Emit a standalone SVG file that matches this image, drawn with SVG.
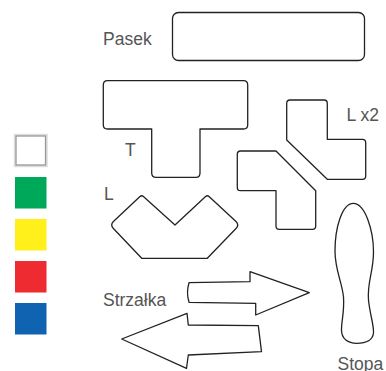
<svg xmlns="http://www.w3.org/2000/svg" width="386" height="371" viewBox="0 0 386 371">
<style>
.shape{fill:#fff;stroke:#222;stroke-width:1.3;stroke-linejoin:round}
.lbl{font-family:"Liberation Sans",Arial,sans-serif;font-size:17.5px;fill:#555}
</style>
<rect width="386" height="371" fill="#fff"/>
<g id="swatches">
<rect x="15" y="135" width="31.5" height="31" fill="#fff" stroke="#ddd" stroke-width="2.5"/>
<rect x="16" y="136" width="29.5" height="29" fill="#fff" stroke="#999" stroke-width="1.3"/>
<rect x="15" y="177" width="31.5" height="31.5" fill="#00A85A"/>
<rect x="15" y="219" width="31.5" height="31.5" fill="#FFF01C"/>
<rect x="15" y="261" width="31.5" height="31.5" fill="#EE2B31"/>
<rect x="15" y="303" width="31.5" height="31.5" fill="#1063B0"/>
</g>
<g id="pasek">
<rect class="shape" x="172.5" y="12.5" width="192" height="48" rx="6"/>
<text class="lbl" x="103" y="45">Pasek</text>
</g>
<g id="t">
<path class="shape" d="M107.5,80.7 H243.5 Q247.7,80.7 247.7,85 V125 Q247.7,129 243.5,129 H200 V173 Q200,177.3 196,177.3 H156 Q151.7,177.3 151.7,173 V129 H107.5 Q103.3,129 103.3,125 V85 Q103.3,80.7 107.5,80.7 Z"/>
<text class="lbl" x="125" y="156">T</text>
</g>
<g id="l">
<path class="shape" d="M140,196.5 Q141.7,195 143.4,196.5 L175,225 L205.6,196.5 Q207.3,195 209,196.5 L236,221.5 Q239.5,225 236,228.5 L207.3,258.3 H141.7 L113.4,228.5 Q110,225 113.4,221.5 Z"/>
<text class="lbl" x="104" y="200">L</text>
</g>
<g id="lx2a">
<path class="shape" d="M290,100 H324 Q327.3,100 327.3,103.5 V139.3 H362.5 Q365.7,139.3 365.7,142.5 V176 Q365.7,179.3 362.5,179.3 H327.3 L286.7,140 V103.5 Q286.7,100 290,100 Z"/>
<text class="lbl" x="346.5" y="120.7">L x2</text>
</g>
<g id="lx2b">
<path class="shape" d="M240.5,151 H276 L315.7,190.7 V226 Q315.7,229.3 312.5,229.3 H279.2 Q276,229.3 276,226 V190.7 H240.5 Q237.3,190.7 237.3,187.5 V154.2 Q237.3,151 240.5,151 Z"/>
</g>
<g id="strzalka">
<path class="shape" d="M189,282.7 L250,281.7 L250,271.7 L309.3,292.7 L255.7,315 L255.7,303.3 L189,302.3 Q186,292.5 189,282.7 Z"/>
<path class="shape" d="M187,313.3 L188.3,325 L258.3,325.7 L261.5,351.7 L188.3,355 L186.5,368.3 L121.7,339 Z"/>
<text class="lbl" x="103" y="305.7">Strzałka</text>
</g>
<g id="stopa">
<path class="shape" d="M353.3,203.3 C365,203.3 373.5,230 373.5,252 C373.5,272 367,282 368.5,300 C370,315 374,325 373.5,333 C372.5,341 365,343.3 356.7,343.3 C348,343.3 341.5,339 341.5,330 C341.5,320 344.5,312 343.5,297 C342,282 335,270 335,251 C335,228 342,203.3 353.3,203.3 Z"/>
<text class="lbl" x="337.5" y="369.5">Stopa</text>
</g>
</svg>
